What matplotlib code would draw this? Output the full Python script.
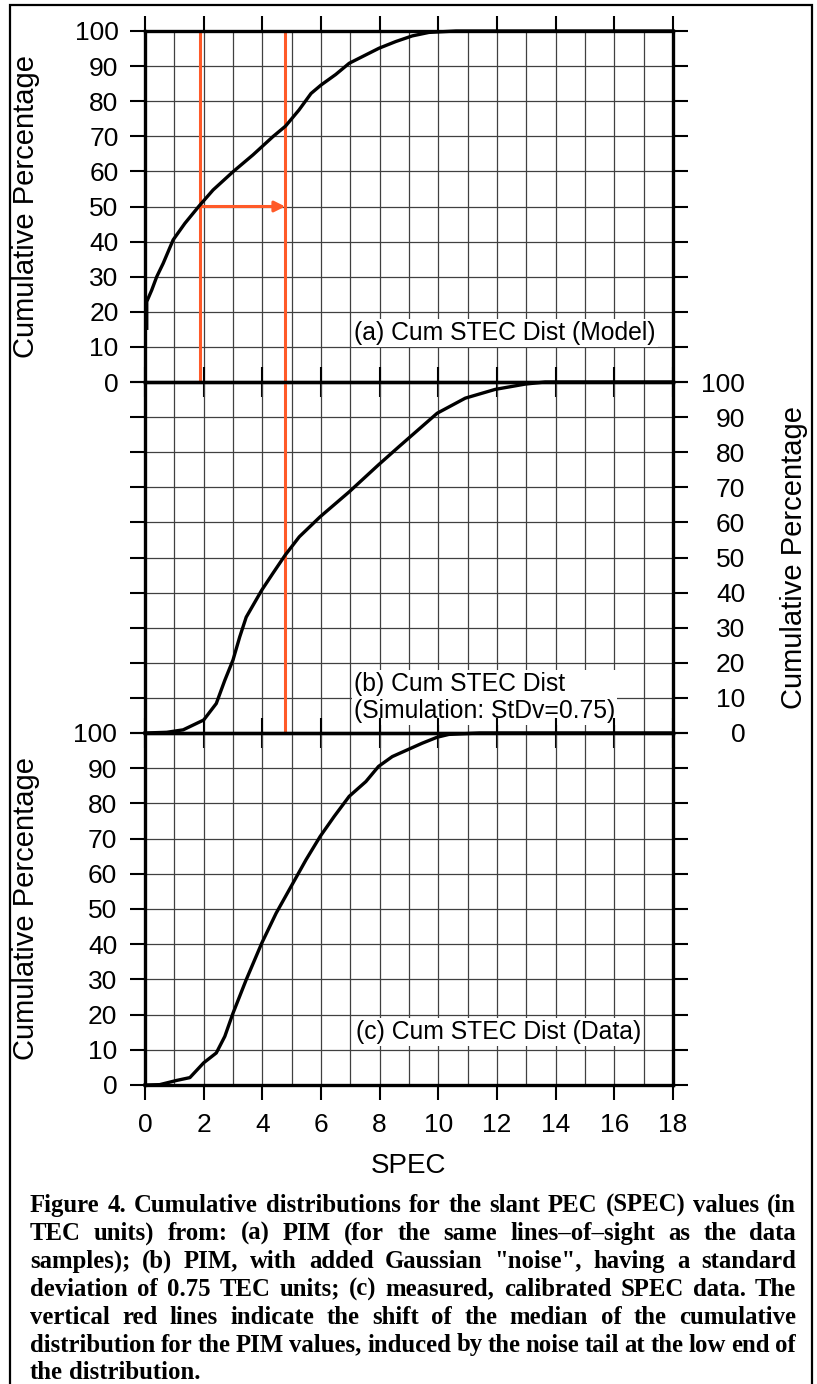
import numpy as np
import matplotlib.pyplot as plt
from matplotlib.ticker import MultipleLocator
from matplotlib.patches import Rectangle

plt.rcParams['font.family'] = ['Liberation Sans', 'DejaVu Sans']

# (a) модель PIM: накопленный процент от SPEC
spec_model = [0.06, 0.06, 0.23, 0.40, 0.62, 0.96, 1.36, 1.84, 2.32, 3.00, 3.68, 4.36,
              4.79, 5.25, 5.66, 6.00, 6.50, 6.96, 7.41, 7.98, 8.55, 9.11, 9.68, 10.6, 18.0]
cum_model = [15.3, 22.9, 26.2, 30.0, 33.8, 40.5, 45.2, 50.1, 54.7, 59.9, 64.7, 69.9,
             72.9, 77.5, 82.2, 84.6, 87.6, 90.8, 92.7, 95.1, 97.0, 98.6, 99.6, 100.0, 100.0]

# (b) PIM + гауссов шум (StDv = 0.75)
spec_sim = [0.0, 0.74, 1.30, 2.00, 2.43, 2.72, 3.00, 3.23, 3.45, 3.98, 4.36, 4.78,
            5.26, 5.97, 6.96, 7.96, 8.66, 9.96, 10.92, 11.94, 12.96, 13.64, 18.0]
cum_sim = [0.0, 0.2, 0.9, 3.7, 8.4, 15.0, 20.8, 27.4, 33.0, 40.7, 45.5, 50.7,
           55.9, 61.6, 68.7, 76.4, 81.6, 91.1, 95.4, 97.9, 99.4, 100.0, 100.0]

# (c) измеренные данные
spec_data = [0.0, 0.50, 1.08, 1.53, 2.00, 2.43, 2.72, 3.00, 3.45, 3.98, 4.47, 4.98,
             5.49, 5.97, 6.45, 6.96, 7.53, 7.96, 8.43, 8.94, 9.45, 9.96, 10.36, 11.4, 18.0]
cum_data = [0.0, 0.1, 1.3, 2.1, 6.3, 9.1, 13.8, 20.4, 29.9, 40.3, 48.8, 56.4,
            64.0, 70.6, 76.3, 82.0, 86.2, 90.5, 93.3, 95.2, 97.1, 98.8, 99.6, 100.0, 100.0]

# медианы: модель и модель с шумом
median_model = 1.86
median_sim = 4.78

panel_titles = ["(a) Cum STEC Dist (Model)",
                "(b) Cum STEC Dist\n(Simulation: StDv=0.75)",
                "(c) Cum STEC Dist (Data)"]

caption_lines = [
    "Figure 4. Cumulative distributions for the slant PEC (SPEC) values (in",
    "TEC units) from: (a) PIM (for the same lines\u2013of\u2013sight as the data",
    "samples); (b) PIM, with added Gaussian \"noise\", having a standard",
    "deviation of 0.75 TEC units; (c) measured, calibrated SPEC data. The",
    "vertical red lines indicate the shift of the median of the cumulative",
    "distribution for the PIM values, induced by the noise tail at the low end of",
    "the distribution.",
]

W, H = 817, 1384
RED = '#ff5a28'
fig = plt.figure(figsize=(W / 100, H / 100), dpi=100)


def make_axes(top, bottom):
    ax = fig.add_axes([145 / W, 1 - bottom / H, 528 / W, (bottom - top) / H])
    ax.set_facecolor('none')
    ax.set_xlim(0, 18)
    ax.set_ylim(0, 100)
    ax.xaxis.set_major_locator(MultipleLocator(2))
    ax.xaxis.set_minor_locator(MultipleLocator(1))
    ax.yaxis.set_major_locator(MultipleLocator(10))
    ax.grid(which='both', axis='x', color='#404040', lw=0.9, zorder=0)
    ax.grid(which='major', axis='y', color='#404040', lw=0.9, zorder=0)
    ax.tick_params(which='major', direction='out', length=11, width=1.5,
                   top=True, right=True, labelsize=19, pad=8,
                   labelbottom=False)
    ax.tick_params(which='minor', length=0)
    for sp in ax.spines.values():
        sp.set_linewidth(2.4)
        sp.set_zorder(5)
    return ax


ax_a = make_axes(31, 382)
ax_b = make_axes(382, 733)
ax_c = make_axes(733, 1085)

for ax, xs, ys in [(ax_a, spec_model, cum_model),
                   (ax_b, spec_sim, cum_sim),
                   (ax_c, spec_data, cum_data)]:
    ax.plot(xs, ys, color='black', lw=2.4, zorder=3, clip_on=False)

# подписи панелей на белом фоне
bbox = dict(facecolor='white', edgecolor='none', pad=1.5)
ax_a.text(7.13, 14.0, panel_titles[0], fontsize=17.8, va='center', ha='left', bbox=bbox, zorder=4)
ax_b.text(7.13, 10.2, panel_titles[1], fontsize=17.8, va='center', ha='left', bbox=bbox,
          zorder=4, linespacing=1.15)
ax_c.text(7.2, 15.1, panel_titles[2], fontsize=17.8, va='center', ha='left', bbox=bbox, zorder=4)

# сдвиг медианы
ax_a.axvline(median_model, color=RED, lw=2.2, zorder=2)
ax_a.axvline(median_sim, color=RED, lw=2.2, zorder=2)
ax_b.axvline(median_sim, color=RED, lw=2.2, zorder=2)
ax_a.annotate('', xy=(median_sim, 50), xytext=(median_model, 50),
              arrowprops=dict(arrowstyle='-|>', color=RED, lw=2.2,
                              mutation_scale=16, shrinkA=0, shrinkB=0), zorder=2)

# оси Y
for ax in (ax_a, ax_c):
    ax.set_ylabel('Cumulative Percentage', fontsize=21)
    ax.yaxis.set_label_coords(-0.199, 0.5)
ax_b.tick_params(labelleft=False, labelright=True, pad=41)
for t in ax_b.yaxis.get_majorticklabels():
    t.set_horizontalalignment('right')
ax_b.yaxis.set_label_position('right')
ax_b.set_ylabel('Cumulative Percentage', fontsize=21, rotation=90)
ax_b.yaxis.set_label_coords(1.2027, 0.5)

ax_c.tick_params(labelbottom=True, pad=9)
ax_c.set_xlabel('SPEC', fontsize=20)
ax_c.xaxis.set_label_coords(0.5, -0.192)

# рамка вокруг рисунка
fig.add_artist(Rectangle((10 / W, -0.02), 802 / W, 1.02 - 5 / H, transform=fig.transFigure,
                         fill=False, edgecolor='black', lw=1.6))

# подпись, выровненная по ширине
renderer = fig.canvas.get_renderer()
x0, x1 = 30, 796
base0, step = 1212, 27.9
cap_size = 17.8
cap_kw = dict(family=['Liberation Serif', 'DejaVu Serif'], fontweight='bold', fontsize=cap_size,
              va='baseline', ha='left')
for i, line in enumerate(caption_lines):
    words = line.split(' ')
    texts = [fig.text(0, 0, w, **cap_kw) for w in words]
    widths = [t.get_window_extent(renderer).width for t in texts]
    if i == len(caption_lines) - 1:
        gap = cap_size * 0.25 * 100 / 72
    else:
        gap = (x1 - x0 - sum(widths)) / (len(words) - 1)
    x = x0
    y = base0 + i * step
    for t, w in zip(texts, widths):
        t.set_position((x / W, 1 - y / H))
        x += w + gap

fig.savefig('out.png', dpi=100)
